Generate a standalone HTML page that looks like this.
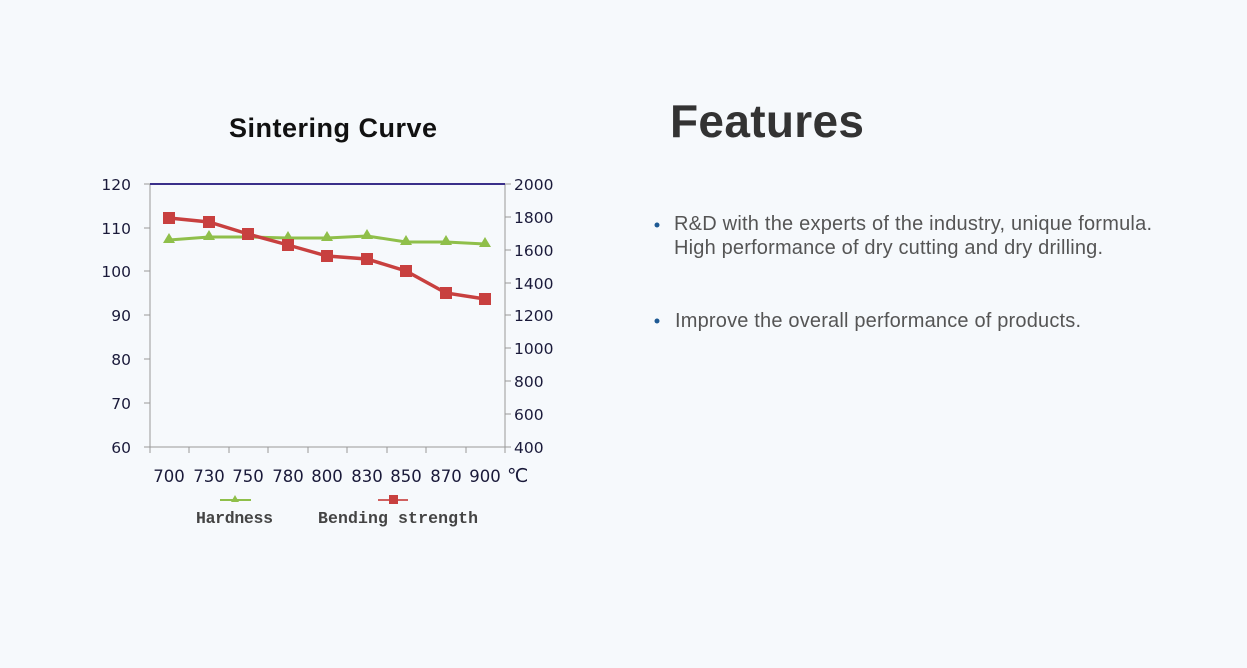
<!DOCTYPE html>
<html><head><meta charset="utf-8"><style>
html,body{margin:0;padding:0;background:#f6f9fc;}
</style></head><body>
<svg width="1247" height="668" xmlns="http://www.w3.org/2000/svg" style="display:block">
<rect width="1247" height="668" fill="#f6f9fc"/>
<text x="333" y="137" text-anchor="middle" font-family="Liberation Sans, sans-serif" font-weight="bold" font-size="27" fill="#111" textLength="208">Sintering Curve</text>
<g stroke="#999" stroke-width="1" fill="none">
<line x1="150" y1="184" x2="150" y2="447"/>
<line x1="505" y1="184" x2="505" y2="447"/>
<line x1="150" y1="447" x2="505" y2="447"/>
<path d="M144 184H150M144 228H150M144 271H150M144 315H150M144 359H150M144 403H150M144 447H150"/>
<path d="M505 184H511M505 217H511M505 250H511M505 283H511M505 315H511M505 348H511M505 381H511M505 414H511M505 447H511"/>
<path d="M150 447V453M189 447V453M229 447V453M268 447V453M308 447V453M347 447V453M387 447V453M426 447V453M466 447V453M505 447V453"/>
</g>
<line x1="150" y1="184" x2="505" y2="184" stroke="#3a2f8a" stroke-width="2"/>
<g font-family="DejaVu Sans, sans-serif" font-size="15.5" fill="#1a1a3a">
<g text-anchor="end">
<text x="131" y="190">120</text><text x="131" y="234">110</text><text x="131" y="277">100</text><text x="131" y="321">90</text><text x="131" y="365">80</text><text x="131" y="409">70</text><text x="131" y="453">60</text>
</g>
<text x="514" y="190">2000</text><text x="514" y="223">1800</text><text x="514" y="256">1600</text><text x="514" y="289">1400</text><text x="514" y="321">1200</text><text x="514" y="354">1000</text><text x="514" y="387">800</text><text x="514" y="420">600</text><text x="514" y="453">400</text>
<g text-anchor="middle" font-size="16.5">
<text x="169" y="482">700</text><text x="209" y="482">730</text><text x="248" y="482">750</text><text x="288" y="482">780</text><text x="327" y="482">800</text><text x="367" y="482">830</text><text x="406" y="482">850</text><text x="446" y="482">870</text><text x="485" y="482">900</text>
</g>
<text x="507" y="482" font-size="19">℃</text>
</g>
<polyline points="169,240 209,237 248,237 288,238 327,238 367,236 406,242 446,242 485,244" fill="none" stroke="#8fbf4a" stroke-width="3"/>
<g fill="#8fbf4a">
<path d="M169,233 l6,10 h-12z"/><path d="M209,230 l6,10 h-12z"/><path d="M248,230 l6,10 h-12z"/><path d="M288,231 l6,10 h-12z"/><path d="M327,231 l6,10 h-12z"/><path d="M367,229 l6,10 h-12z"/><path d="M406,235 l6,10 h-12z"/><path d="M446,235 l6,10 h-12z"/><path d="M485,237 l6,10 h-12z"/>
</g>
<polyline points="169,218 209,222 248,234 288,245 327,256 367,259 406,271 446,293 485,299" fill="none" stroke="#c8403f" stroke-width="3.5"/>
<g fill="#c8403f">
<rect x="163" y="212" width="12" height="12"/><rect x="203" y="216" width="12" height="12"/><rect x="242" y="228" width="12" height="12"/><rect x="282" y="239" width="12" height="12"/><rect x="321" y="250" width="12" height="12"/><rect x="361" y="253" width="12" height="12"/><rect x="400" y="265" width="12" height="12"/><rect x="440" y="287" width="12" height="12"/><rect x="479" y="293" width="12" height="12"/>
</g>
<line x1="220" y1="500" x2="251" y2="500" stroke="#8fbf4a" stroke-width="2"/>
<path d="M235,495 l4,7 h-8z" fill="#8fbf4a"/>
<line x1="378" y1="500" x2="408" y2="500" stroke="#d06060" stroke-width="2"/>
<rect x="389" y="495" width="9" height="9" fill="#c8403f"/>
<g font-family="Liberation Mono, monospace" font-size="16.5" font-weight="bold" fill="#444">
<text x="196" y="523" textLength="77">Hardness</text>
<text x="318" y="523" textLength="160">Bending  strength</text>
</g>
<text x="670" y="137" font-family="Liberation Sans, sans-serif" font-weight="bold" font-size="46" fill="#333" textLength="194">Features</text>
<g font-family="Liberation Sans, sans-serif" font-size="20" fill="#555">
<circle cx="657" cy="225" r="2.5" fill="#1e5a94"/>
<text x="674" y="230" textLength="478">R&amp;D with the experts of the industry, unique formula.</text>
<text x="674" y="254" textLength="429">High performance of dry cutting and dry drilling.</text>
<circle cx="657" cy="321" r="2.5" fill="#1e5a94"/>
<text x="675" y="327" textLength="406">Improve the overall performance of products.</text>
</g>
</svg>
</body></html>
